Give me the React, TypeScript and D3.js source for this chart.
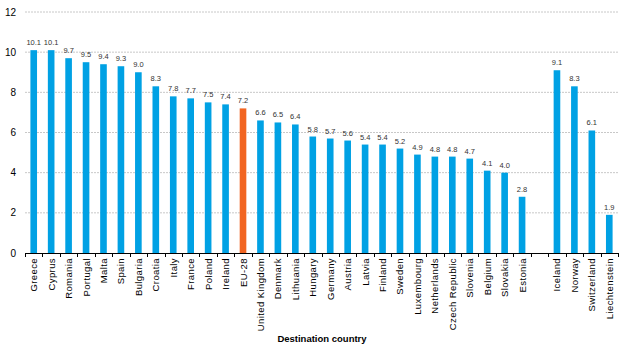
import React from "react";
import * as d3 from "d3";

const countries = [
  "Greece", "Cyprus", "Romania", "Portugal", "Malta", "Spain", "Bulgaria", "Croatia",
  "Italy", "France", "Poland", "Ireland", "EU-28", "United Kingdom", "Denmark", "Lithuania",
  "Hungary", "Germany", "Austria", "Latvia", "Finland", "Sweden", "Luxembourg", "Netherlands",
  "Czech Republic", "Slovenia", "Belgium", "Slovakia", "Estonia", "", "Iceland", "Norway",
  "Switzerland", "Liechtenstein",
];
const values: (number | null)[] = [
  10.1, 10.1, 9.7, 9.5, 9.4, 9.3, 9.0, 8.3,
  7.8, 7.7, 7.5, 7.4, 7.2, 6.6, 6.5, 6.4,
  5.8, 5.7, 5.6, 5.4, 5.4, 5.2, 4.9, 4.8,
  4.8, 4.7, 4.1, 4.0, 2.8, null, 9.1, 8.3,
  6.1, 1.9,
];
const yTicks = [0, 2, 4, 6, 8, 10, 12];
const highlight = "EU-28";
const axisTitle = "Destination country";

export default function App() {
  const W = 630, H = 356;
  const left = 25, right = 618, top = 12, bottom = 253;
  const keys = countries.map((c, i) => `${i}`);
  const x = d3.scaleBand<string>().domain(keys).range([left, right]).paddingInner(0).paddingOuter(0);
  const y = d3.scaleLinear().domain([0, 12]).range([bottom, top]);
  const bw = x.bandwidth() * 0.38;
  const font = "Liberation Sans, Arial, sans-serif";

  return (
    <svg width={W} height={H} style={{ position: "absolute", left: 0, top: 0, background: "#fff" }}>
      {yTicks.map((t) => (
        <g key={t}>
          {t > 0 && (
            <line x1={left} x2={right} y1={y(t)} y2={y(t)} stroke="#c8c8c8" strokeWidth={1} strokeDasharray="2,1" />
          )}
          <text x={16} y={y(t)} dy="0.35em" textAnchor="end" fontFamily={font} fontSize={10} fill="#000">
            {t}
          </text>
        </g>
      ))}
      {countries.map((c, i) => {
        const v = values[i];
        const cx = (x(keys[i]) as number) + x.bandwidth() / 2;
        return (
          <g key={i}>
            {v !== null && (
              <>
                <rect
                  x={cx - bw / 2}
                  y={y(v)}
                  width={bw}
                  height={y(0) - y(v)}
                  fill={c === highlight ? "#f26522" : "#00a1e4"}
                />
                <text x={cx} y={y(v) - 5} textAnchor="middle" fontFamily={font} fontSize={7.5} fill="#333">
                  {d3.format(".1f")(v)}
                </text>
              </>
            )}
            {c && (
              <text
                transform={`translate(${cx + 3.5},${bottom + 5}) rotate(-90)`}
                textAnchor="end"
                fontFamily={font}
                fontSize={9.5}
                letterSpacing={0.4}
                fill="#000"
              >
                {c}
              </text>
            )}
          </g>
        );
      })}
      <line x1={left} x2={right} y1={bottom + 0.5} y2={bottom + 0.5} stroke="#000" strokeWidth={1} />
      {d3.range(keys.length + 1).map((i) => {
        const xx = Math.round(left + i * x.step()) + 0.5;
        return <line key={i} x1={xx} x2={xx} y1={bottom} y2={bottom + 4} stroke="#000" strokeWidth={1} />;
      })}
      <text x={322} y={342} textAnchor="middle" fontFamily={font} fontSize={9.5} fontWeight="bold" fill="#000">
        {axisTitle}
      </text>
    </svg>
  );
}
